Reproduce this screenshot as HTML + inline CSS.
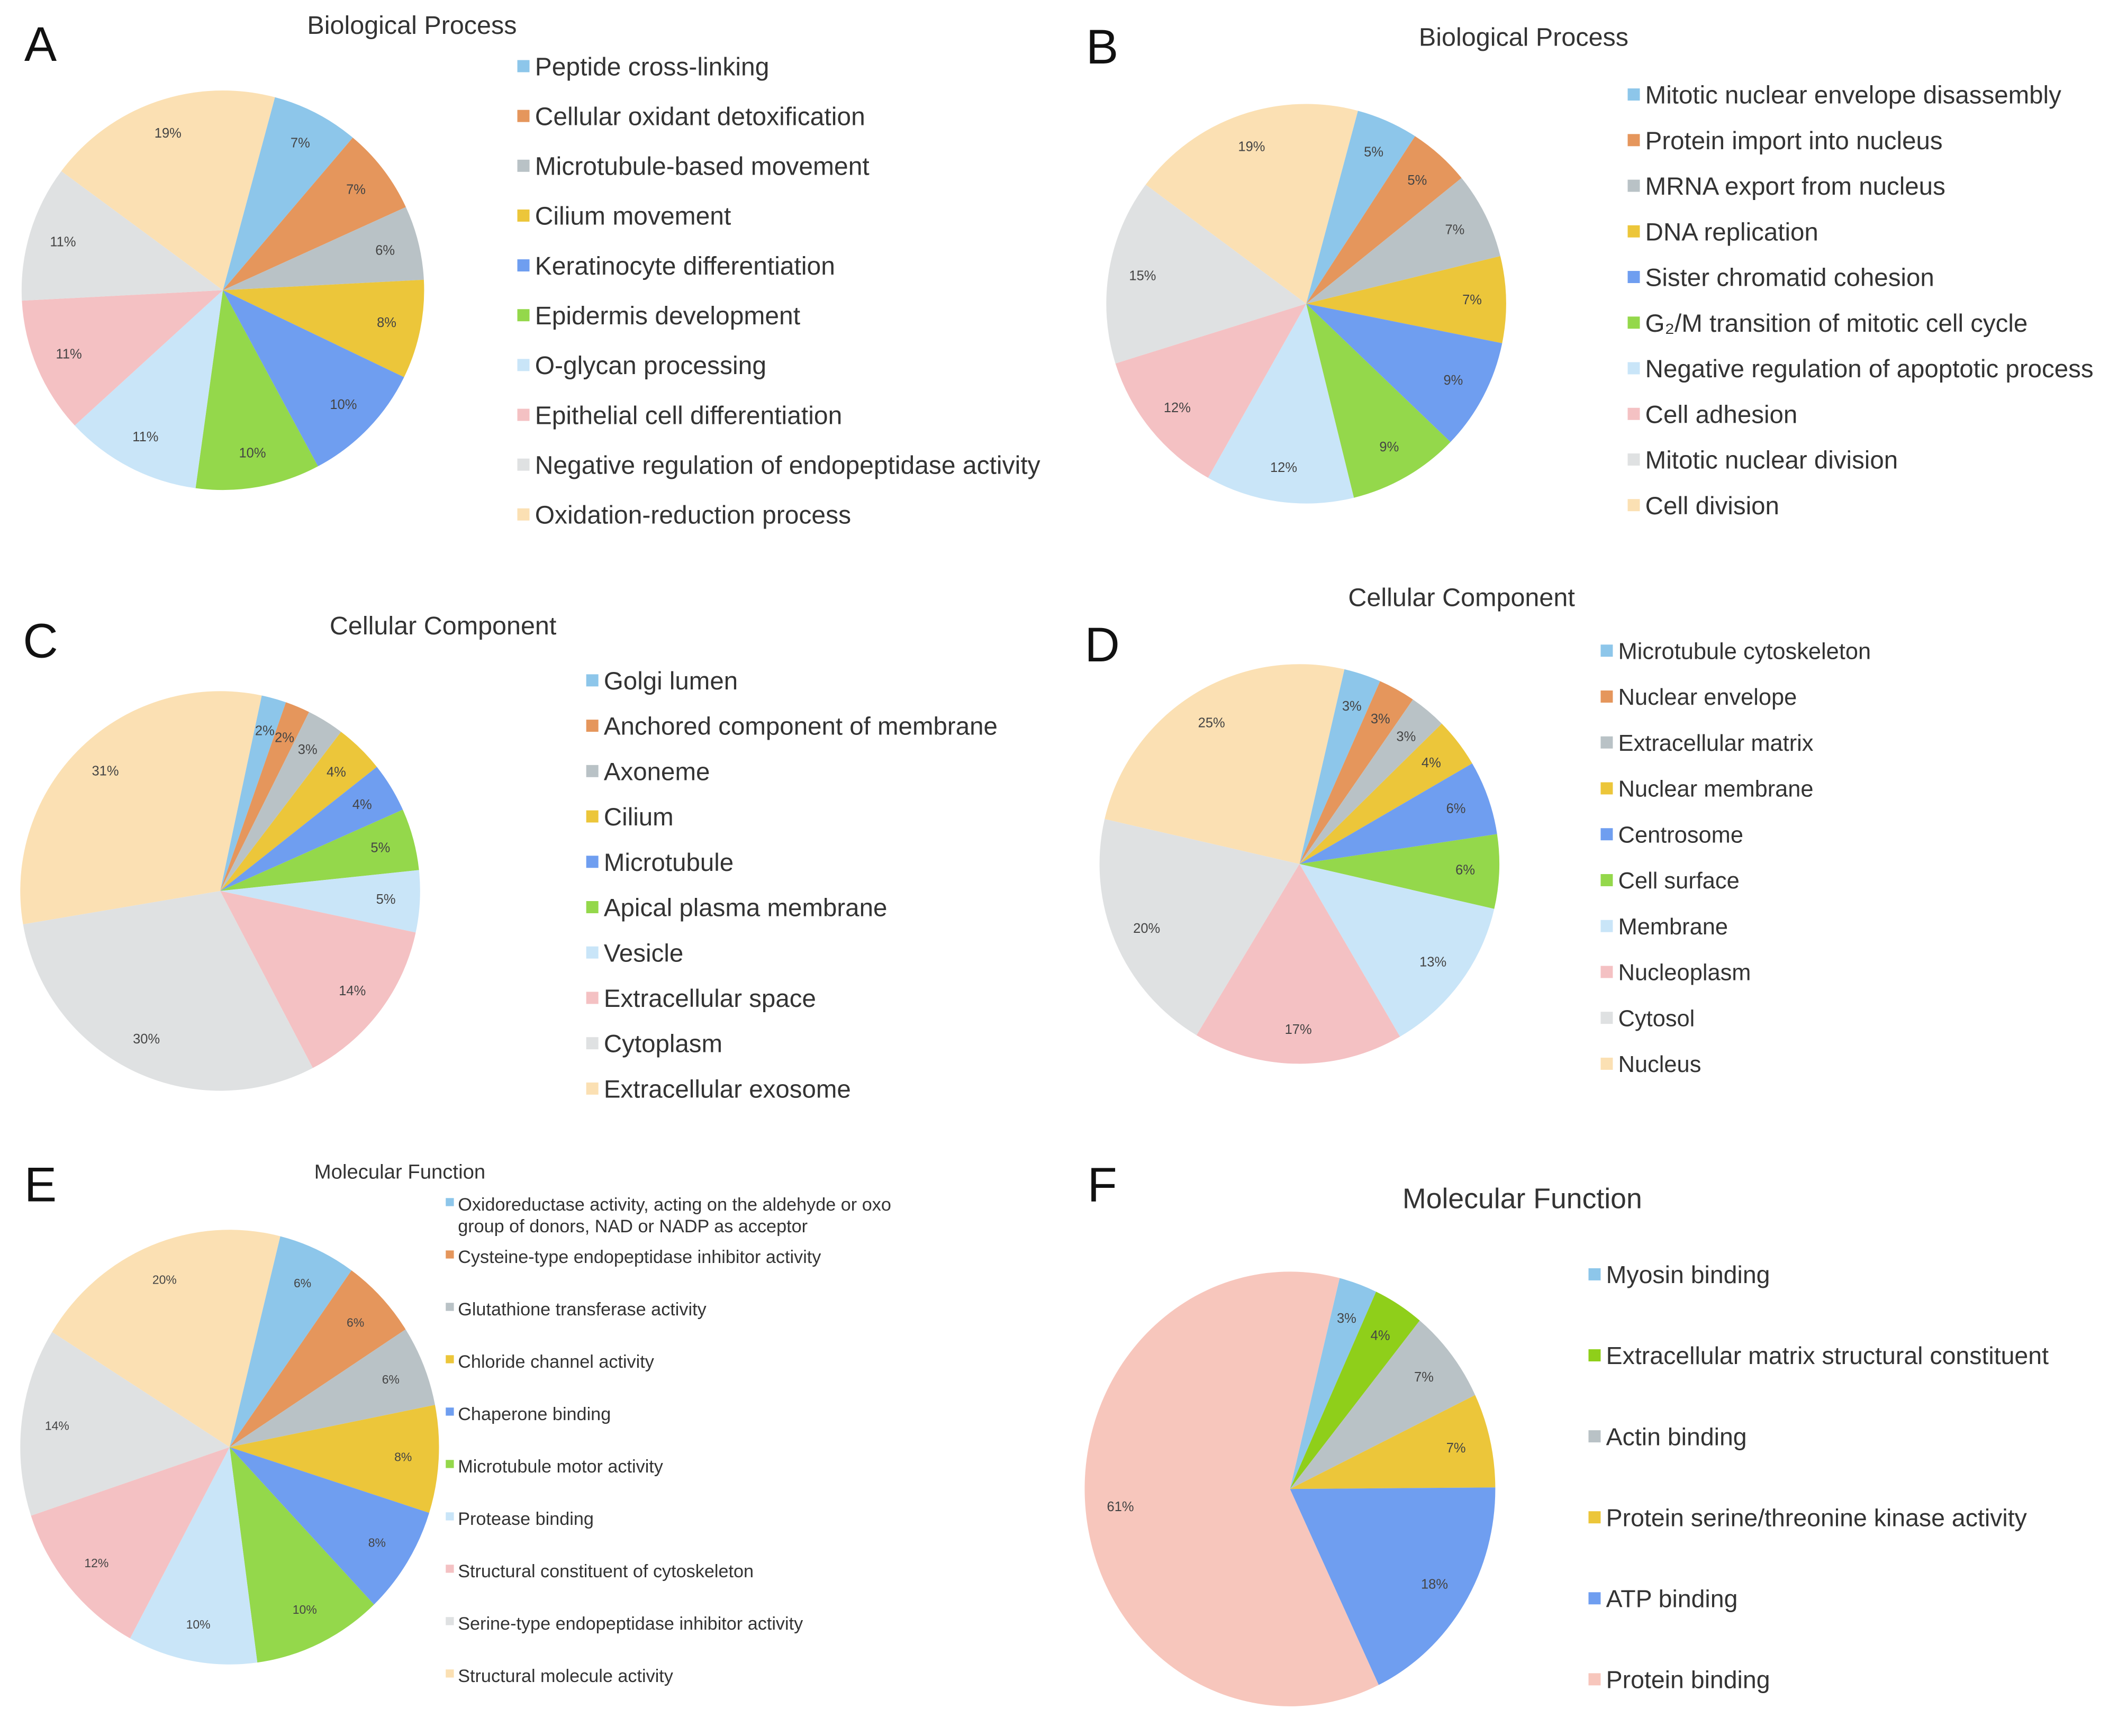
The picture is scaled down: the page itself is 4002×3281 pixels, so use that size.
<!DOCTYPE html>
<html><head><meta charset="utf-8"><style>
html,body{margin:0;padding:0;background:#fff;}
svg{display:block;}
text{font-family:"Liberation Sans",sans-serif;fill:#333;}
</style></head><body>
<svg id="fig" width="4002" height="3281" viewBox="0 0 1568 1286" preserveAspectRatio="none" xmlns="http://www.w3.org/2000/svg"></svg>
<script>
const C10=["#8dc6ea","#e5965c","#b9c2c6","#ecc63a","#6f9ef0","#94d84b","#c9e5f8","#f4c1c3","#dfe1e2","#fbe0b3"];
const C6=["#8dc6ea","#8fcf1a","#b9c2c6","#ecc63a","#6f9ef0","#f7c6bc"];

const labelsA=["Peptide cross-linking","Cellular oxidant detoxification","Microtubule-based movement","Cilium movement","Keratinocyte differentiation","Epidermis development","O-glycan processing","Epithelial cell differentiation","Negative regulation of endopeptidase activity","Oxidation-reduction process"];
const valuesA=[7,7,6,8,10,10,11,11,11,19];
const labelsB=["Mitotic nuclear envelope disassembly","Protein import into nucleus","MRNA export from nucleus","DNA replication","Sister chromatid cohesion","G\u2082/M transition of mitotic cell cycle","Negative regulation of apoptotic process","Cell adhesion","Mitotic nuclear division","Cell division"];
const valuesB=[5,5,7,7,9,9,12,12,15,19];
const labelsC=["Golgi lumen","Anchored component of membrane","Axoneme","Cilium","Microtubule","Apical plasma membrane","Vesicle","Extracellular space","Cytoplasm","Extracellular exosome"];
const valuesC=[2,2,3,4,4,5,5,14,30,31];
const labelsD=["Microtubule cytoskeleton","Nuclear envelope","Extracellular matrix","Nuclear membrane","Centrosome","Cell surface","Membrane","Nucleoplasm","Cytosol","Nucleus"];
const valuesD=[3,3,3,4,6,6,13,17,20,25];
const labelsE=["Oxidoreductase activity, acting on the aldehyde or oxo|group of donors, NAD or NADP as acceptor","Cysteine-type endopeptidase inhibitor activity","Glutathione transferase activity","Chloride channel activity","Chaperone binding","Microtubule motor activity","Protease binding","Structural constituent of cytoskeleton","Serine-type endopeptidase inhibitor activity","Structural molecule activity"];
const valuesE=[6,6,6,8,8,10,10,12,14,20];
const labelsF=["Myosin binding","Extracellular matrix structural constituent","Actin binding","Protein serine/threonine kinase activity","ATP binding","Protein binding"];
const valuesF=[3,4,7,7,18,61];

const NS="http://www.w3.org/2000/svg";
const svg=document.getElementById('fig');
function mk(tag,attrs,parent){const e=document.createElementNS(NS,tag);for(const k in attrs)e.setAttribute(k,attrs[k]);(parent||svg).appendChild(e);return e;}

const charts=[
 {id:"a",letter:"A",lx:30,ly:33,title:"Biological Process",tx:305,ty:18,ts:19,cx:165,cy:215,rx:149,ry:148,off:15,labels:labelsA,values:valuesA,colors:C10,legx:383,legy:49,step:36.9,fs:18.8,ps:10},
 {id:"b",letter:"B",lx:816,ly:35,title:"Biological Process",tx:1128,ty:27,ts:19,cx:967,cy:225,rx:148,ry:148,off:15,labels:labelsB,values:valuesB,colors:C10,legx:1205,legy:70,step:33.8,fs:18.6,ps:10},
 {id:"c",letter:"C",lx:30,ly:475,title:"Cellular Component",tx:328,ty:463,ts:19,cx:163,cy:660,rx:148,ry:148,off:12,labels:labelsC,values:valuesC,colors:C10,legx:434,legy:504,step:33.6,fs:18.6,ps:10},
 {id:"d",letter:"D",lx:816,ly:478,title:"Cellular Component",tx:1082,ty:442,ts:19,cx:962,cy:640,rx:148,ry:148,off:13,labels:labelsD,values:valuesD,colors:C10,legx:1185,legy:482,step:34,fs:17,ps:10},
 {id:"e",letter:"E",lx:30,ly:878,title:"Molecular Function",tx:296,ty:866,ts:15,cx:170,cy:1072,rx:155,ry:161,off:14,labels:labelsE,values:valuesE,colors:C10,legx:330,legy:892,step:38.8,fs:13.4,ps:9,eStyle:true},
 {id:"f",letter:"F",lx:816,ly:878,title:"Molecular Function",tx:1127,ty:888,ts:21,cx:955,cy:1103,rx:152,ry:161,off:14,labels:labelsF,values:valuesF,colors:C6,legx:1176,legy:944,step:60,fs:18.2,ps:10}
];

charts.forEach(ch=>{
 const g=mk('g',{});
 
 
 const L=mk('text',{x:ch.lx,y:ch.ly+12,'text-anchor':'middle','font-size':36,style:'fill:#111'},g);
 L.textContent=ch.letter;
 
 
 const T=mk('text',{x:ch.tx,y:ch.ty+7,'text-anchor':'middle','font-size':ch.ts},g);
 T.textContent=ch.title;
 
 
 const total=ch.values.reduce((a,b)=>a+b,0);
 let acc=0;
 const pt=(deg,f)=>{const r=(deg-90)*Math.PI/180;return [ch.cx+ch.rx*f*Math.cos(r),ch.cy+ch.ry*f*Math.sin(r)];};
 ch.values.forEach((v,i)=>{
  const a0=ch.off+acc/total*360; acc+=v; const a1=ch.off+acc/total*360;
  const p0=pt(a0,1),p1=pt(a1,1);
  const large=(a1-a0)>180?1:0;
  const s=mk('path',{d:`M${ch.cx},${ch.cy} L${p0[0]},${p0[1]} A${ch.rx},${ch.ry} 0 ${large} 1 ${p1[0]},${p1[1]} Z`,fill:ch.colors[i]},g);
  
  
  const lp=pt((a0+a1)/2,0.83);
  const t=mk('text',{x:lp[0],y:lp[1]+3,'text-anchor':'middle','font-size':ch.ps,style:'fill:#444'},g);
  t.textContent=v+'%';
  
  
 });
 ch.labels.forEach((lab,i)=>{
  const y=ch.legy+i*ch.step;
  const r=mk('rect',{x:ch.legx,y:y-4.5,width:ch.eStyle?6:9,height:ch.eStyle?6:9,fill:ch.colors[i]},g);
  
  
  const parts=lab.split('|');
  parts.forEach((p,k)=>{
   const t=mk('text',{x:ch.legx+(ch.eStyle?9:13),y:y+ch.fs*0.36+k*16,'font-size':ch.fs},g);
   t.textContent=p;
   
   
  });
 });
});
</script>
</body></html>
